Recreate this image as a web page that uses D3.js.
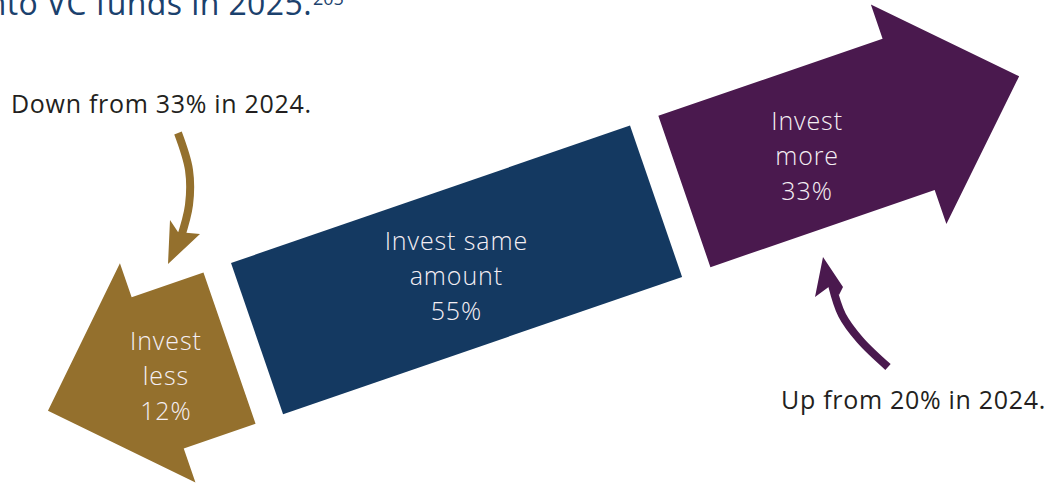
<!DOCTYPE html>
<html>
<head>
<meta charset="utf-8">
<script src="https://cdn.jsdelivr.net/npm/d3@7"></script>
<style>
  html, body { margin: 0; padding: 0; background: #fff; }
  svg { display: block; font-family: "Open Sans", "Lato", sans-serif; }
</style>
</head>
<body>
<div id="chart"></div>
<script>
// Survey answers: how LPs expect to change VC allocations
const categories = ["Invest less", "Invest same amount", "Invest more"];
const labelLines = [["Invest", "less"], ["Invest same", "amount"], ["Invest", "more"]];
const shares = [12, 55, 33];
const priorNotes = ["Down from 33% in 2024.", "Up from 20% in 2024."];
const titleText = "into VC funds in 2025.";
const footnoteMark = "205";

const colors = ["#94702d", "#143961", "#4a194e"];

const width = 1050;
const height = 484;

const svg = d3
  .select("#chart")
  .append("svg")
  .attr("width", width)
  .attr("height", height);

// Band runs along a tilted axis; local coords u (along) and v (across)
const origin = [231, 263];
const angle = -19;
const rad = (angle * Math.PI) / 180;

// along-axis scale: stops of each piece of the band
const along = d3.scaleLinear().domain([0, 1]).range([0, 422]);
const across = d3.scaleLinear().domain([0, 1]).range([0, 160]);

// piece extents in band units (blue body = 0..1)
const pieces = [
  { body: [-0.069, -0.249], tip: -0.524 },
  { body: [0, 1], tip: null },
  { body: [1.071, 1.633], tip: 1.910 },
];
const headOver = 0.225; // head overhang past body, in across units
const labelAt = [-0.235, 0.493, 1.372];

function toPage(u, v) {
  return [
    origin[0] + u * Math.cos(rad) - v * Math.sin(rad),
    origin[1] + u * Math.sin(rad) + v * Math.cos(rad),
  ];
}

const band = svg
  .append("g")
  .attr("transform", `translate(${origin[0]},${origin[1]}) rotate(${angle})`);

function piecePoints(p) {
  const a = along(p.body[0]);
  const b = along(p.body[1]);
  const top = across(0);
  const bot = across(1);
  if (!p.tip) {
    return [[a, top], [b, top], [b, bot], [a, bot]];
  }
  const t = along(p.tip);
  const mid = across(0.5);
  return [
    [a, top], [b, top], [b, across(-headOver)],
    [t, mid],
    [b, across(1 + headOver)], [b, bot], [a, bot],
  ];
}

band
  .selectAll("polygon.piece")
  .data(pieces)
  .enter()
  .append("polygon")
  .attr("class", "piece")
  .attr("points", (d) => piecePoints(d).map((p) => p.join(",")).join(" "))
  .attr("fill", (d, i) => colors[i]);

// Labels inside each piece (kept horizontal)
const lineGap = 35;
categories.forEach((c, i) => {
  const [cx, cy] = toPage(along(labelAt[i]), across(0.54));
  const lines = labelLines[i].concat([shares[i] + "%"]);
  const g = svg.append("text")
    .attr("text-anchor", "middle")
    .attr("fill", "#f4eff4")
    .style("font-size", "25px")
    .style("font-weight", 300)
    .style("letter-spacing", "0.9px");
  lines.forEach((t, k) => {
    g.append("tspan")
      .attr("x", cx + 0.5)
      .attr("y", cy + 8.5 + (k - 1) * lineGap)
      .text(t);
  });
});

// Title fragment at top (clipped by the page edge, as in the source)
svg.append("text")
  .attr("x", 312)
  .attr("y", 15)
  .attr("text-anchor", "end")
  .attr("fill", "#1b416d")
  .style("font-size", "32px")
  .style("letter-spacing", "0.4px")
  .text(titleText);
svg.append("text")
  .attr("x", 313)
  .attr("y", 4.5)
  .attr("fill", "#1b416d")
  .style("font-size", "18px")
  .text(footnoteMark);

// Prior-year notes
const noteStyle = (sel) =>
  sel.attr("fill", "#231f20")
    .style("font-size", "25px")
    .style("letter-spacing", "0.7px");
svg.append("text")
  .attr("x", 11)
  .attr("y", 113)
  .call(noteStyle)
  .text(priorNotes[0]);
svg.append("text")
  .attr("x", 1046)
  .attr("y", 409)
  .attr("text-anchor", "end")
  .call(noteStyle)
  .text(priorNotes[1]);

// Hand-drawn pointer arrows
const pointers = [
  {
    color: colors[0],
    shaft: [[178, 133], [189, 170], [189, 205], [180, 240]],
    head: [[170, 220], [178, 232], [200, 234], [168, 264]],
  },
  {
    color: colors[2],
    shaft: [[888, 367], [860, 340], [842, 315], [832, 285]],
    head: [[823, 257], [843, 287], [839, 295], [830, 286], [815, 297]],
  },
];
const brush = d3.line().curve(d3.curveCatmullRom);
pointers.forEach((p) => {
  svg.append("path")
    .attr("d", brush(p.shaft))
    .attr("fill", "none")
    .attr("stroke", p.color)
    .attr("stroke-width", 8)
    .attr("stroke-linecap", "butt");
  svg.append("polygon")
    .attr("points", p.head.map((q) => q.join(",")).join(" "))
    .attr("fill", p.color);
});
</script>
</body>
</html>
